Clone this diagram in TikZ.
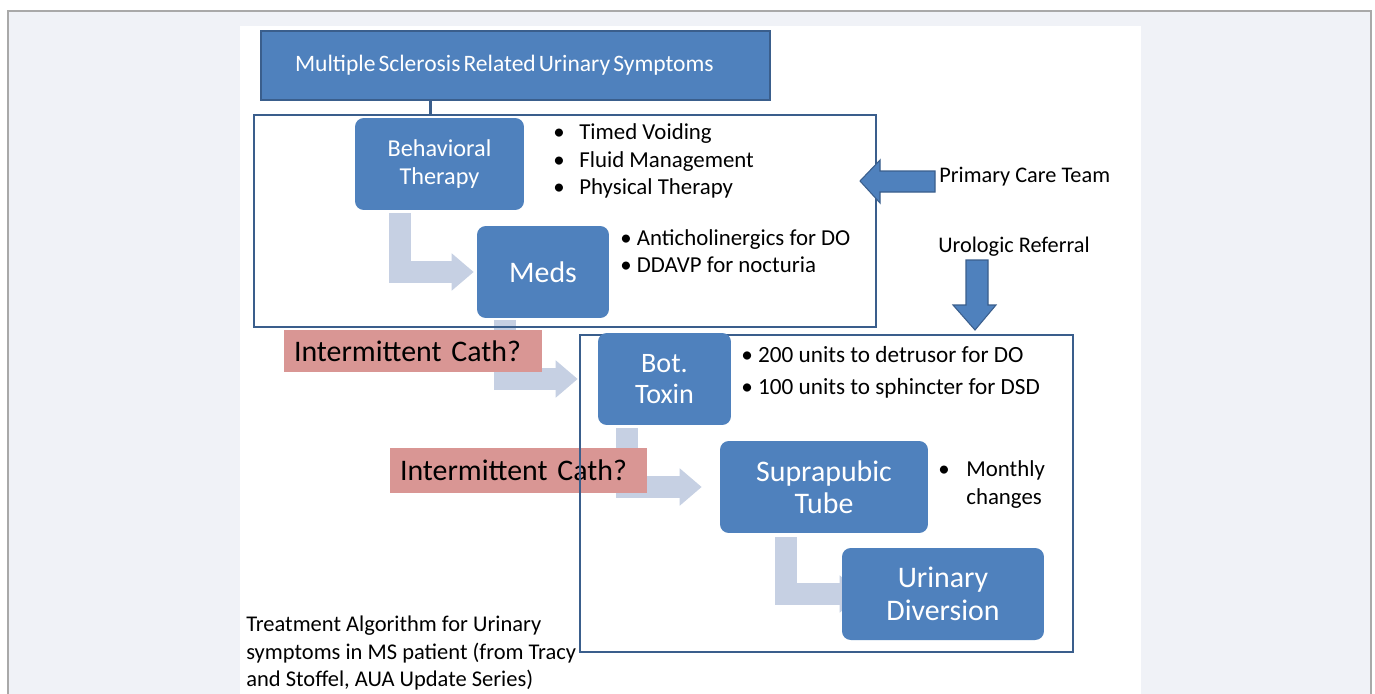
\documentclass[tikz,border=0pt]{standalone}
\usepackage{fontspec}
\setmainfont{Carlito}
\usetikzlibrary{arrows.meta, calc}

\definecolor{pagegray}{HTML}{F0F2F7}
\definecolor{pageline}{HTML}{A9A9A9}
\definecolor{msblue}{HTML}{4F81BD}
\definecolor{msblueline}{HTML}{3A5E8C}
\definecolor{flowgray}{HTML}{C6D0E3}
\definecolor{cathpink}{HTML}{D99694}

\pgfdeclarelayer{paper}
\pgfdeclarelayer{flows}
\pgfsetlayers{paper,flows,main}

\begin{document}
\begin{tikzpicture}[x = 0.02cm, y = -0.02cm,
	stage/.style = {rectangle, rounded corners = 5pt, fill = msblue, text = white, align = center, inner sep = 0pt, minimum height = 1.84cm},
	group/.style = {rectangle, draw = msblueline, line width = 1.1pt, inner sep = 0pt},
	cath/.style = {rectangle, fill = cathpink, inner xsep = 0.2cm, inner ysep = 0pt, align = left, font = \fontsize{17}{20}\selectfont},
	bullets/.style = {anchor = west, align = left, inner sep = 0pt, font = \fontsize{13}{15.6}\selectfont},
	flow/.style = {draw = flowgray, line width = 0.44cm, line join = miter, -{Triangle[length = 0.44cm, width = 0.72cm]}}]

	\useasboundingbox (0, 0) rectangle (1375, 693);

	% Paper

	\begin{pgfonlayer}{paper}
		\fill [white] (0, 0) rectangle (1375, 693);
		\draw [fill = pagegray, draw = pageline, line width = 0.8pt] (8, 11) rectangle (1371, 720);
		\fill [white] (240, 26) rectangle (1141, 720);
	\end{pgfonlayer}

	% Title and primary care group

	\node [rectangle, fill = msblue, draw = msblueline, line width = 1.1pt, text = white, inner xsep = 0.68cm, inner ysep = 0pt,
		minimum height = 1.38cm, text width = 8.82cm, align = left, font = \fontsize{13.4}{15}\selectfont] (symptoms) at (515.5, 65.5)
		{\spaceskip = 0.13em Multiple Sclerosis Related Urinary Symptoms};
	\node [group, minimum width = 12.44cm, minimum height = 4.24cm] (primary) at (565, 221) {};

	\coordinate (drop) at ($(symptoms.south west)!0.333!(symptoms.south east)$);
	\draw [msblueline, line width = 1.7pt] (drop) -- (drop |- primary.north);

	\node [stage, minimum width = 3.38cm, font = \fontsize{13.8}{15.9}\selectfont] (behavioral) at (439.5, 164) {Behavioral\\Therapy};
	\node [bullets] (behlist) at (553, 161)
		{\makebox[0.52cm][l]{\textbullet}Timed Voiding\\\makebox[0.52cm][l]{\textbullet}Fluid Management\\\makebox[0.52cm][l]{\textbullet}Physical Therapy};

	\node [stage, minimum width = 2.64cm, font = \fontsize{17}{20}\selectfont] (meds) at (543, 272) {Meds};
	\node [bullets] (medslist) at (620, 251)
		{\textbullet\ Anticholinergics for DO\\\textbullet\ DDAVP for nocturia};

	\node [bullets, font = \fontsize{12.7}{15}\selectfont] (pcteam) at (939, 177) {Primary Care Team};
	\fill [msblue, draw = msblueline, line width = 0.6pt] (860, 181) -- (880, 160) -- (880, 171) -- (935, 171)
		-- (935, 192) -- (880, 192) -- (880, 203) -- cycle;

	% Urology group

	\node [bullets, font = \fontsize{12.7}{15}\selectfont] (urolabel) at (938, 247) {Urologic Referral};
	\fill [msblue, draw = msblueline, line width = 0.6pt] (966, 260) -- (988, 260) -- (988, 305) -- (996, 305)
		-- (975, 330) -- (953, 305) -- (966, 305) -- cycle;

	\node [cath, text width = 4.76cm, minimum height = 0.84cm] (cathone) at (413, 351) {Intermittent Cath?};
	\node [cath, text width = 4.74cm, minimum height = 0.9cm] (cathtwo) at (518.5, 470.5) {Intermittent Cath?};

	\node [group, minimum width = 9.86cm, minimum height = 6.34cm] (urology) at (826.5, 493.5) {};

	\node [stage, minimum width = 2.66cm, font = \fontsize{16}{18.1}\selectfont] (botox) at (664.5, 379) {Bot.\\Toxin};
	\node [bullets, font = \fontsize{13.2}{18.1}\selectfont] (botlist) at (741, 372)
		{\textbullet\ 200 units to detrusor for DO\\\textbullet\ 100 units to sphincter for DSD};

	\node [stage, minimum width = 4.16cm, font = \fontsize{17}{18.1}\selectfont] (suprapubic) at (824, 487) {Suprapubic\\Tube};
	\node [bullets] (supralist) at (938, 484.5)
		{\makebox[0.56cm][l]{\textbullet}Monthly\\\makebox[0.56cm][l]{}changes};

	\node [stage, minimum width = 4.04cm, font = \fontsize{17}{18.7}\selectfont] (diversion) at (943, 594) {Urinary\\Diversion};

	% Flow arrows

	\begin{pgfonlayer}{flows}
		\draw [flow] ([xshift = -0.79cm, yshift = -0.06cm] behavioral.south) |- ([xshift = -0.06cm] meds.west);
		\draw [flow] ([xshift = -0.76cm, yshift = -0.04cm] meds.south) |- ([xshift = -0.4cm] botox.west);
		\draw [flow] ([xshift = -0.76cm, yshift = -0.06cm] botox.south) |- ([xshift = -0.36cm] suprapubic.west);
		\draw [flow] ([xshift = -0.77cm, yshift = -0.08cm] suprapubic.south) |- ([xshift = 0.4cm] diversion.west);
	\end{pgfonlayer}

	% Caption

	\node [bullets, font = \fontsize{12.8}{15.6}\selectfont] (caption) at (246, 653)
		{Treatment Algorithm for Urinary\\symptoms in MS patient (from Tracy\\and Stoffel, AUA Update Series)};

\end{tikzpicture}
\end{document}
